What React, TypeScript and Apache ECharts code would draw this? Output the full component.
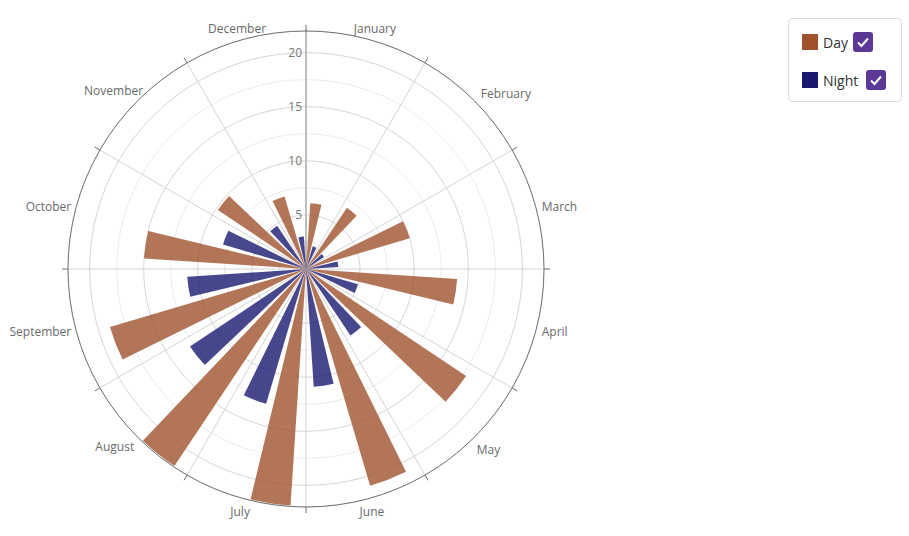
import React, { useEffect, useRef } from "react";
import * as echarts from "echarts";

const months = [
  "January", "February", "March", "April", "May", "June",
  "July", "August", "September", "October", "November", "December",
];
const dayValues = [6.1, 6.8, 10, 14, 17.8, 20.9, 21.9, 21.9, 18.9, 15, 9.8, 7];
const nightValues = [2.2, 2, 3, 5, 7.4, 10.9, 13, 12.9, 11, 8, 4.8, 3];
const seriesNames = ["Day", "Night"];
const seriesColors = ["#A0522D", "#191970"];

// small per-label nudges [dx, dy] in px (style only)
const labelNudges = [
  [6, 0], [3, 2], [1, -1], [1, 3], [-1, 3], [3, 2],
  [-3, 2], [0, 0], [0, 3], [0, -1], [9, -1], [-6, 0],
];

const FONT = "'Open Sans', 'Noto Sans', sans-serif";
const POLAR_R = 238;
const LABEL_MARGIN = 5;

function checkbox(x: number, y: number) {
  return {
    type: "group",
    x,
    y,
    children: [
      { type: "rect", shape: { x: 0, y: 0, width: 20, height: 20, r: 3 }, style: { fill: "#5b3796" } },
      {
        type: "polyline",
        shape: { points: [[5, 10.5], [8.5, 14], [15, 6.5]] },
        style: { stroke: "#ffffff", lineWidth: 2, fill: null },
      },
    ],
  };
}

// Convert a nudge into text padding according to the alignment ECharts picks for the label.
function buildAngleLabels() {
  const n = months.length;
  const rr = POLAR_R + LABEL_MARGIN;
  return months.map((m, i) => {
    const th = ((i + 0.5) / n) * Math.PI * 2;
    const px = rr * Math.sin(th);
    const py = -rr * Math.cos(th);
    const alH = Math.abs(px) / POLAR_R < 0.3 ? "center" : px > 0 ? "left" : "right";
    const alV = Math.abs(py) / POLAR_R < 0.3 ? "middle" : py > 0 ? "top" : "bottom";
    const [dx, dy] = labelNudges[i];
    let pl = 0, pr = 0, pt = 0, pb = 0;
    if (alH === "left") pl = dx;
    else if (alH === "right") pr = -dx;
    else if (dx > 0) pl = 2 * dx;
    else pr = -2 * dx;
    if (alV === "top") pt = dy;
    else if (alV === "bottom") pb = -dy;
    else if (dy > 0) pt = 2 * dy;
    else pb = -2 * dy;
    return { value: m, textStyle: { padding: [pt, pr, pb, pl] } };
  });
}

export default function App() {
  const ref = useRef<HTMLDivElement>(null);
  useEffect(() => {
    document.body.style.margin = "0";
    if (!ref.current) return;
    const chart = echarts.init(ref.current, undefined, { renderer: "svg" });
    chart.setOption({
      animation: false,
      textStyle: { fontFamily: FONT },
      polar: { center: [306, 269], radius: POLAR_R },
      angleAxis: {
        type: "category",
        data: buildAngleLabels(),
        startAngle: 90,
        clockwise: true,
        boundaryGap: true,
        z: 1,
        axisLine: { show: true, lineStyle: { color: "#707070", width: 1 } },
        axisTick: { show: true, length: 6, lineStyle: { color: "#707070" } },
        splitLine: { show: true, lineStyle: { color: "#d3d3d3", width: 1 } },
        axisLabel: { color: "#6a6a6a", fontSize: 12, margin: LABEL_MARGIN, fontFamily: FONT },
      },
      radiusAxis: {
        type: "value",
        min: 0,
        max: 22,
        interval: 2.5,
        axisLine: { show: true, lineStyle: { color: "#a8a8a8", width: 2 } },
        axisTick: { show: false },
        axisLabel: {
          color: "#777777",
          fontSize: 12,
          margin: 4,
          fontFamily: FONT,
          formatter: (v: number) => (v > 0 && v % 5 === 0 ? String(v) : ""),
        },
        splitLine: { show: true, lineStyle: { color: ["#d6d6d6", "#ececec"], width: 1 } },
      },
      legend: {
        orient: "vertical",
        left: 802,
        top: 34,
        padding: 0,
        itemWidth: 16,
        itemHeight: 16,
        itemGap: 22,
        icon: "rect",
        selectedMode: false,
        itemStyle: { opacity: 1 },
        textStyle: { fontSize: 14, color: "#333333", fontFamily: FONT },
        data: seriesNames,
      },
      series: [
        {
          name: seriesNames[0],
          type: "bar",
          coordinateSystem: "polar",
          barCategoryGap: "25%",
          data: dayValues,
          itemStyle: { color: seriesColors[0], opacity: 0.8 },
        },
        {
          name: seriesNames[1],
          type: "bar",
          coordinateSystem: "polar",
          barCategoryGap: "25%",
          data: nightValues,
          itemStyle: { color: seriesColors[1], opacity: 0.8 },
        },
      ],
      graphic: [
        {
          type: "rect",
          shape: { x: 788.5, y: 18.5, width: 113, height: 83, r: 4 },
          style: { fill: "none", stroke: "#dcdcdc", lineWidth: 1 },
        },
        checkbox(853, 32),
        checkbox(866, 70),
      ],
    });
    return () => chart.dispose();
  }, []);
  return <div ref={ref} style={{ width: 909, height: 536 }} />;
}
